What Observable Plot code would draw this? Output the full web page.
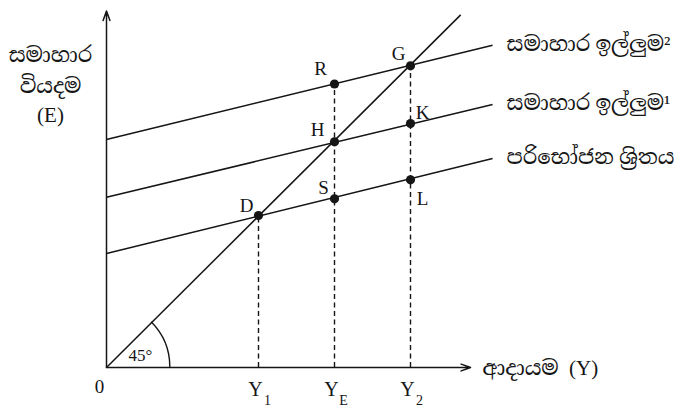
<!DOCTYPE html>
<html><head><meta charset="utf-8">
<script src="https://cdn.jsdelivr.net/npm/d3@7"></script>
<script src="https://cdn.jsdelivr.net/npm/@observablehq/plot@0.6"></script>
<style>body{margin:0;background:#fff}</style>
</head><body><div id="chart"></div>
<script>
// ---- data ----
const incomeLevels = [2, 3, 4];                 // Y1, YE, Y2
const incomeMain = ["Y", "Y", "Y"];
const incomeSubscripts = ["1", "E", "2"];
const lineNames = ["පරිභෝජන ශ්‍රිතය", "සමාහාර ඉල්ලුම¹", "සමාහාර ඉල්ලුම²"];
const lineStartE = [1.5, 2.24, 3.0];            // value at Y = 0
const lineEndE = [2.75, 3.46, 4.24];            // value at Y = lineEndY
const lineEndY = 5.08;
const diagonalEnd = [4.66, 4.64];
const pointLabels = ["D", "S", "L", "H", "K", "R", "G"];
const pointY = [2, 3, 4, 3, 4, 3, 4];
const pointE = [2, 2.22, 2.47, 2.97, 3.21, 3.73, 3.97];
const dropTops = [2, 3.73, 3.97];
const axisEnds = [4.79, 4.69];                  // x-axis end, y-axis end
const yAxisTitle = ["සමාහාර", "වියදම", "(E)"];
const xAxisTitle = "ආදායම  (Y)";
const originLabel = "0";
const angleLabel = "45°";
const arcRadius = 0.84;

// ---- style ----
const ink = "#151515";
const font = "'Liberation Serif', 'Noto Serif Sinhala', 'Noto Sans Sinhala', serif";
const labelOffsets = {D: [-12, -10], S: [-11, -11], L: [12, 19], H: [-17, -12], K: [12, -11], R: [-14, -15], G: [-12, -12]};
const yTitleOffsets = [47, 78, 107];
const unit = 76;

const idx3 = [0, 1, 2];
const idxP = pointLabels.map((_, i) => i);

const arcMark = (index, scales, values, dimensions, context) => {
  const cx = scales.x(0), cy = scales.y(0);
  const r = scales.x(arcRadius) - cx;
  const a = Math.PI / 4;
  const path = context.document.createElementNS("http://www.w3.org/2000/svg", "path");
  path.setAttribute("d", `M${cx + r},${cy} A${r},${r} 0 0 0 ${cx + r * Math.cos(a)},${cy - r * Math.sin(a)}`);
  path.setAttribute("fill", "none");
  path.setAttribute("stroke", ink);
  path.setAttribute("stroke-width", 1.4);
  return path;
};

const chart = Plot.plot({
  width: 685, height: 408,
  marginLeft: 106, marginRight: 0, marginTop: 0, marginBottom: 41,
  x: {domain: [0, 579 / unit], axis: null},
  y: {domain: [0, 367 / unit], axis: null},
  style: {fontFamily: font, background: "#fff", color: ink},
  marks: [
    // axes
    Plot.arrow([0], {x1: () => 0, y1: () => 0, x2: () => axisEnds[0], y2: () => 0, stroke: ink, strokeWidth: 1.5, headLength: 10, headAngle: 40}),
    Plot.arrow([0], {x1: () => 0, y1: () => 0, x2: () => 0, y2: () => axisEnds[1], stroke: ink, strokeWidth: 1.5, headLength: 10, headAngle: 40}),
    // dashed drops
    Plot.ruleX(idx3, {x: i => incomeLevels[i], y1: () => 0, y2: i => dropTops[i], stroke: ink, strokeWidth: 1.4, strokeDasharray: "5,3.5"}),
    // 45 degree line
    Plot.link([0], {x1: () => 0, y1: () => 0, x2: () => diagonalEnd[0], y2: () => diagonalEnd[1], stroke: ink, strokeWidth: 1.5}),
    // expenditure lines
    Plot.link(idx3, {x1: () => 0, y1: i => lineStartE[i], x2: () => lineEndY, y2: i => lineEndE[i], stroke: ink, strokeWidth: 1.5}),
    arcMark,
    // points
    Plot.dot(idxP, {x: i => pointY[i], y: i => pointE[i], r: 4.6, fill: ink, stroke: "none"}),
    // point labels
    ...idxP.map(i => Plot.text([i], {x: j => pointY[j], y: j => pointE[j], text: j => pointLabels[j],
      dx: labelOffsets[pointLabels[i]][0], dy: labelOffsets[pointLabels[i]][1], fontSize: 19, fill: ink})),
    // line labels
    Plot.text(idx3, {x: () => lineEndY, y: i => lineEndE[i], text: i => lineNames[i], textAnchor: "start", dx: 14, dy: -1, fontSize: 21, fill: ink}),
    // income tick labels
    Plot.text(idx3, {x: i => incomeLevels[i], y: () => 0, text: i => incomeMain[i], dx: -3, dy: 22, fontSize: 20, fill: ink}),
    Plot.text(idx3, {x: i => incomeLevels[i], y: () => 0, text: i => incomeSubscripts[i], dx: 9, dy: 33, fontSize: 14, fill: ink}),
    Plot.text([0], {x: () => 0, y: () => 0, text: () => originLabel, dx: -7, dy: 19, fontSize: 19, fill: ink}),
    Plot.text([0], {x: () => 0, y: () => 0, text: () => angleLabel, dx: 34, dy: -12, fontSize: 17, fill: ink}),
    // axis titles
    Plot.text([0], {x: () => axisEnds[0], y: () => 0, text: () => xAxisTitle, textAnchor: "start", dx: 12, dy: 1, fontSize: 21, fill: ink}),
    ...yAxisTitle.map((t, i) => Plot.text([t], {text: d => d, frameAnchor: "top-left", textAnchor: "middle", dx: -56, dy: yTitleOffsets[i], fontSize: 21, fill: ink}))
  ]
});
document.getElementById("chart").appendChild(chart);
</script></body></html>
